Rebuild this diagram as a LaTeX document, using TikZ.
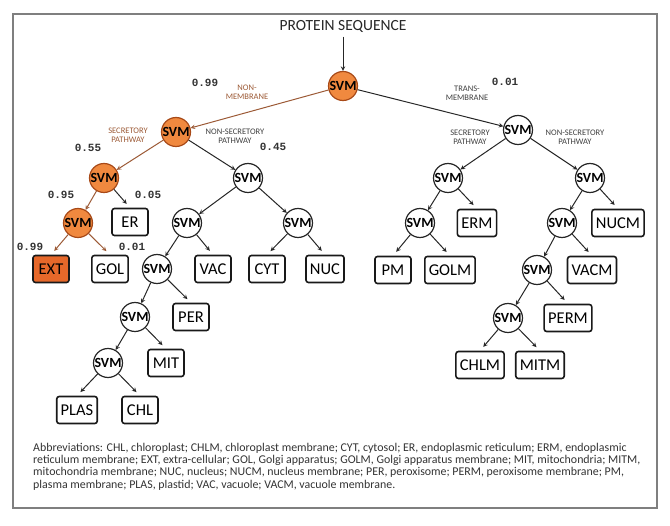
\documentclass[tikz,border=0pt]{standalone}
\usepackage{fontspec}
\setmainfont{Carlito}
\newfontfamily\probfont{Liberation Mono}
\usetikzlibrary{arrows,positioning}
\definecolor{svmorange}{HTML}{F0893F}
\definecolor{svmedge}{HTML}{A84A18}
\definecolor{extorange}{HTML}{E6682A}
\definecolor{hotarrow}{HTML}{9C5A36}
\definecolor{framegray}{HTML}{7F7F7F}

\begin{document}
\begin{tikzpicture}[x=1pt,y=-1pt,
	svm/.style={circle,draw=black!85,line width=1.2pt,fill=white,minimum size=29pt,inner sep=0pt,font=\fontsize{14}{14}\selectfont\bfseries},
	svmhot/.style={svm,fill=svmorange,draw=svmedge},
	loc/.style={rectangle,rounded corners=2.5pt,draw=black!90,line width=1.6pt,fill=white,minimum width=36pt,minimum height=27pt,inner xsep=4pt,font=\fontsize{16.5}{16.5}\selectfont},
	lochot/.style={loc,fill=extorange},
	pathlbl/.style={font=\fontsize{8.5}{9}\selectfont,align=center,text=black!75},
	pathhot/.style={pathlbl,text=hotarrow},
	prob/.style={font=\probfont\bfseries\fontsize{11}{11}\selectfont,text=black!80},
	arr/.style={-stealth,line width=1pt,black!85},
	arrhot/.style={arr,hotarrow}]
	\useasboundingbox (0,0) rectangle (670,526);
	\draw[framegray,line width=1.6pt] (13,14) rectangle (657,508);
	\node[font=\fontsize{15.5}{16}\selectfont,text=black!85] (title) at (343,27) {PROTEIN SEQUENCE};
	% classifiers
	\node[svmhot] (root) at (343,86) {SVM};
	\node[svmhot] (nm) at (176,132) {SVM};
	\node[svm] (tm) at (518,130) {SVM};
	\node[svmhot] (sec) at (104,178) {SVM};
	\node[svm] (nsec) at (248,178) {SVM};
	\node[svm] (tsec) at (448,178) {SVM};
	\node[svm] (tnsec) at (590,178) {SVM};
	\node[svmhot] (secb) at (78,223) {SVM};
	\node[svm] (nseca) at (187,223) {SVM};
	\node[svm] (nsecb) at (298,223) {SVM};
	\node[svm] (tseca) at (420,223) {SVM};
	\node[svm] (tnseca) at (562,223) {SVM};
	\node[svm] (nsecc) at (157,269) {SVM};
	\node[svm] (tnsecb) at (537,270) {SVM};
	\node[svm] (nsecd) at (135,317) {SVM};
	\node[svm] (tnsecc) at (508,318) {SVM};
	\node[svm] (nsece) at (108,363) {SVM};
	% locations
	\node[loc] (er) at (130,222) {ER};
	\node[loc] (erm) at (477,223) {ERM};
	\node[loc] (nucm) at (618,223) {NUCM};
	\node[lochot] (ext) at (51,269) {EXT};
	\node[loc] (gol) at (110,269) {GOL};
	\node[loc] (vac) at (213,269) {VAC};
	\node[loc] (cyt) at (267,269) {CYT};
	\node[loc] (nuc) at (325,269) {NUC};
	\node[loc] (pm) at (393,270) {PM};
	\node[loc] (golm) at (450,270) {GOLM};
	\node[loc] (vacm) at (592,270) {VACM};
	\node[loc] (per) at (191,317) {PER};
	\node[loc] (perm) at (568,318) {PERM};
	\node[loc] (mit) at (166,363) {MIT};
	\node[loc] (chlm) at (480,365) {CHLM};
	\node[loc] (mitm) at (540,365) {MITM};
	\node[loc] (plas) at (77,410) {PLAS};
	\node[loc] (chl) at (140,410) {CHL};
	% branch labels
	\node[pathhot] (lnm) at (247,92) {NON-\\MEMBRANE};
	\node[pathlbl] (ltm) at (467,93) {TRANS-\\MEMBRANE};
	\node[pathhot] (lsec) at (128,135) {SECRETORY\\PATHWAY};
	\node[pathlbl] (lnsec) at (235,136) {NON-SECRETORY\\PATHWAY};
	\node[pathlbl] (ltsec) at (470,137) {SECRETORY\\PATHWAY};
	\node[pathlbl] (ltnsec) at (575,137) {NON-SECRETORY\\PATHWAY};
	\node[prob] (pnm) at (205,83) {0.99};
	\node[prob] (ptm) at (505,82) {0.01};
	\node[prob] (psec) at (88,148) {0.55};
	\node[prob] (pnsec) at (273,147) {0.45};
	\node[prob] (psecb) at (61,195) {0.95};
	\node[prob] (per5) at (148,195) {0.05};
	\node[prob] (pext) at (30,247) {0.99};
	\node[prob] (pgol) at (132,247) {0.01};
	% arrows
	\draw[arr] (title) -- (root);
	\draw[arrhot] (root) -- (nm);
	\draw[arrhot] (nm) -- (sec);
	\draw[arrhot] (sec) -- (secb);
	\draw[arrhot,shorten >=5pt] (secb) -- (ext.north);
	\draw[arrhot,shorten >=5pt] (secb) -- (gol.north);
	\draw[arr,shorten >=5pt] (sec) -- (er.north);
	\foreach \a/\b in {root/tm,nm/nsec,tm/tsec,tm/tnsec,nsec/nseca,nsec/nsecb,tsec/tseca,tnsec/tnseca,nseca/nsecc,tnseca/tnsecb,nsecc/nsecd,tnsecb/tnsecc,nsecd/nsece}
		\draw[arr] (\a) -- (\b);
	\foreach \a/\b in {tsec/erm,tnsec/nucm,nseca/vac,nsecb/cyt,nsecb/nuc,tseca/pm,tseca/golm,tnseca/vacm,nsecc/per,tnsecb/perm,nsecd/mit,tnsecc/chlm,tnsecc/mitm,nsece/plas,nsece/chl}
		\draw[arr,shorten >=5pt] (\a) -- (\b.north);
	% abbreviations
	\node[anchor=north west,align=left,font=\fontsize{11.9}{12.2}\selectfont,text=black!80,inner sep=0pt] (abbr) at (33,443) {Abbreviations: CHL, chloroplast; CHLM, chloroplast membrane; CYT, cytosol; ER, endoplasmic reticulum; ERM, endoplasmic\\
	reticulum membrane; EXT, extra-cellular; GOL, Golgi apparatus; GOLM, Golgi apparatus membrane; MIT, mitochondria; MITM,\\
	mitochondria membrane; NUC, nucleus; NUCM, nucleus membrane; PER, peroxisome; PERM, peroxisome membrane; PM,\\
	plasma membrane; PLAS, plastid; VAC, vacuole; VACM, vacuole membrane.};
\end{tikzpicture}
\end{document}
